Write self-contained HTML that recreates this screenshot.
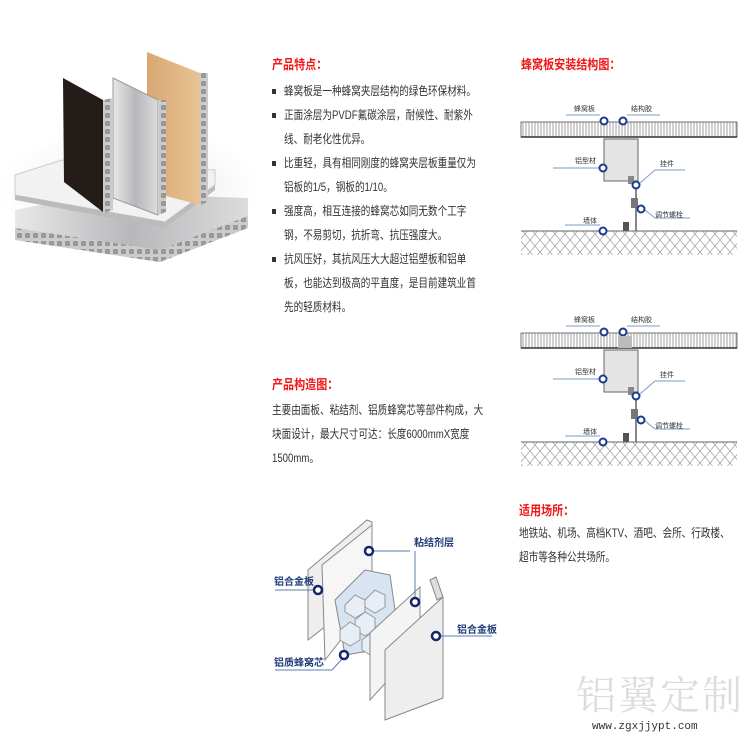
<!DOCTYPE html>
<html><head><meta charset="utf-8"><style>
body{margin:0;width:750px;height:750px;background:#fff;position:relative;overflow:hidden;font-family:"Liberation Sans","Noto Sans CJK SC",sans-serif}
.t{position:absolute;font-size:12px;color:#333;line-height:24px;white-space:nowrap;transform:scaleX(0.8);transform-origin:0 0}
.h{position:absolute;font-size:13px;font-weight:bold;color:#f01818;white-space:nowrap;transform:scaleX(0.85);transform-origin:0 0}
ul{margin:0;padding:0;list-style:none}
li{position:relative;padding-left:15px}
li:before{content:"";position:absolute;left:0;top:10px;width:5px;height:5px;background:#333}
</style></head><body>
<svg width="750" height="750" style="position:absolute;left:0;top:0">
<defs>
<pattern id="vl" width="3" height="10" patternUnits="userSpaceOnUse"><rect width="3" height="10" fill="#fff"/><line x1="1" y1="0" x2="1" y2="10" stroke="#777" stroke-width="0.7"/></pattern>
<pattern id="xh" width="10" height="12" patternUnits="userSpaceOnUse"><path d="M0 0L10 12M10 0L0 12" stroke="#999" stroke-width="0.7"/></pattern>
<pattern id="hc" width="8" height="8" patternUnits="userSpaceOnUse"><rect width="8" height="8" fill="#ccc"/><rect x="1" y="1" width="5" height="5" fill="#999"/></pattern>
<linearGradient id="sv" x1="0" x2="1"><stop offset="0" stop-color="#e8e8e8"/><stop offset=".5" stop-color="#b8b8bc"/><stop offset="1" stop-color="#dcdcdc"/></linearGradient>
<linearGradient id="wd" x1="0" x2="1"><stop offset="0" stop-color="#d9a874"/><stop offset="1" stop-color="#e8c394"/></linearGradient>
<radialGradient id="bg"><stop offset="0" stop-color="#e6e6e6"/><stop offset="1" stop-color="#fff"/></radialGradient>
<g id="inst">
<rect x="521" y="122" width="216" height="15" fill="url(#vl)" stroke="#555" stroke-width="0.8"/>
<line x1="521" y1="137" x2="737" y2="137" stroke="#333" stroke-width="1.5"/>
<rect x="604" y="139" width="34" height="42" fill="#e4e4e4" stroke="#666"/>
<line x1="636" y1="181" x2="636" y2="231" stroke="#888" stroke-width="2"/>
<rect x="628" y="176" width="6" height="8" fill="#888"/>
<rect x="631" y="198" width="7" height="10" fill="#777"/>
<rect x="623" y="222" width="6" height="9" fill="#555"/>
<rect x="521" y="231" width="216" height="24" fill="url(#xh)"/>
<line x1="521" y1="231" x2="737" y2="231" stroke="#666"/>
<g fill="none" stroke="#7a9cc8" stroke-width="1"><line x1="566" y1="115" x2="600" y2="115"/><line x1="627" y1="115" x2="660" y2="115"/><line x1="553" y1="168" x2="600" y2="168"/><line x1="640" y1="183" x2="655" y2="170"/><line x1="655" y1="170" x2="685" y2="170"/><line x1="645" y1="210" x2="655" y2="218"/><line x1="655" y1="218" x2="690" y2="218"/><line x1="565" y1="225" x2="600" y2="225"/></g>
<g fill="#fff" stroke="#1a3a8c" stroke-width="2"><circle cx="604" cy="121" r="3.5"/><circle cx="623" cy="121" r="3.5"/><circle cx="603" cy="168" r="3.5"/><circle cx="636" cy="185" r="3.5"/><circle cx="641" cy="209" r="3.5"/><circle cx="603" cy="231" r="3.5"/></g>
<g font-size="7" fill="#333"><text x="574" y="111">蜂窝板</text><text x="631" y="111">结构胶</text><text x="575" y="163">铝型材</text><text x="660" y="166">挂件</text><text x="655" y="217">调节螺栓</text><text x="583" y="223">墙体</text></g>
</g>
</defs>
<ellipse cx="130" cy="190" rx="130" ry="65" fill="url(#bg)"/>
<polygon points="15,210 100,193 248,198 248,228 160,262 15,240" fill="url(#sv)"/>
<polygon points="15,228 160,250 248,216 248,228 160,262 15,240" fill="url(#hc)"/>
<polygon points="15,175 62,160 215,170 215,185 165,222 15,195" fill="#f2f2f2" stroke="#ccc"/>
<polygon points="15,195 165,222 215,185 215,190 165,228 15,200" fill="#bbb"/>
<polygon points="147,52 200,73 200,205 170,197 147,190" fill="url(#wd)"/>
<polygon points="200,73 208,73 208,202 200,205" fill="url(#hc)"/>
<polygon points="113,78 158,100 158,215 113,198" fill="url(#sv)" stroke="#999"/>
<polygon points="158,100 166,100 166,212 158,215" fill="url(#hc)"/>
<polygon points="63,78 103,100 103,212 64,182" fill="#231c18"/>
<polygon points="103,100 113,98 113,210 103,213" fill="url(#hc)"/>

<use href="#inst"/>
<use href="#inst" transform="translate(0,211)"/>
<rect x="618" y="336" width="14" height="12" fill="#bbb"/>

<!-- exploded -->
<g stroke="#888" stroke-width="1">
<polygon points="308,570 367,520 372,522 372,590 308,640" fill="#eee"/>
<polygon points="322,565 372,525 372,600 325,660" fill="#f6f6f6"/>
<polygon points="335,600 365,570 390,575 395,610 375,650 345,655" fill="#d8e4f2"/>
<g fill="#e8eef6" stroke="#999"><polygon points="345,605 355,595 365,600 365,612 355,618 345,612"/><polygon points="365,600 375,590 385,595 385,607 375,613 365,607"/><polygon points="355,620 365,612 375,618 375,630 365,636 355,630"/><polygon points="340,630 350,622 360,628 360,640 350,646 340,640"/><polygon points="362,640 372,632 382,638 382,650 372,656 362,650"/></g>
<polygon points="370,633 420,587 420,645 370,700" fill="#f4f4f4"/>
<polygon points="385,650 443,597 443,698 385,720" fill="#eee"/>
<polygon points="430,580 436,577 443,597 437,600" fill="#ddd"/>
</g>
<g fill="none" stroke="#5a7fb5" stroke-width="1"><line x1="372" y1="551" x2="410" y2="551"/><line x1="415" y1="551" x2="415" y2="598"/><line x1="275" y1="590" x2="314" y2="590"/><line x1="275" y1="670" x2="332" y2="670"/><line x1="332" y1="670" x2="343" y2="658"/><line x1="440" y1="636" x2="492" y2="636"/></g>
<g fill="#fff" stroke="#14256e" stroke-width="2.5"><circle cx="369" cy="551" r="4"/><circle cx="415" cy="602" r="4"/><circle cx="318" cy="590" r="4"/><circle cx="344" cy="655" r="4"/><circle cx="436" cy="636" r="4"/></g>
<g font-size="10" font-weight="bold" fill="#233e7a"><text x="414" y="546">粘结剂层</text><text x="274" y="585">铝合金板</text><text x="274" y="666">铝质蜂窝芯</text><text x="457" y="633">铝合金板</text></g>
</svg>

<div class="h" style="left:272px;top:54px">产品特点：</div>
<div class="t" style="left:272px;top:79px"><ul>
<li>蜂窝板是一种蜂窝夹层结构的绿色环保材料。</li>
<li>正面涂层为PVDF氟碳涂层，耐候性、耐紫外<br>线、耐老化性优异。</li>
<li>比重轻，具有相同刚度的蜂窝夹层板重量仅为<br>铝板的1/5，钢板的1/10。</li>
<li>强度高，相互连接的蜂窝芯如同无数个工字<br>钢，不易剪切，抗折弯、抗压强度大。</li>
<li>抗风压好，其抗风压大大超过铝塑板和铝单<br>板，也能达到极高的平直度，是目前建筑业首<br>先的轻质材料。</li></ul></div>

<div class="h" style="left:521px;top:54px">蜂窝板安装结构图：</div>

<div class="h" style="left:272px;top:374px">产品构造图：</div>
<div class="t" style="left:272px;top:398px">主要由面板、粘结剂、铝质蜂窝芯等部件构成，大<br>块面设计，最大尺寸可达：长度6000mmX宽度<br>1500mm。</div>

<div class="h" style="left:519px;top:500px">适用场所：</div>
<div class="t" style="left:519px;top:521px">地铁站、机场、高档KTV、酒吧、会所、行政楼、<br>超市等各种公共场所。</div>

<div style="position:absolute;left:576px;top:664px;font-size:40px;color:#ddd;letter-spacing:2px;font-family:'Liberation Serif','Noto Serif CJK SC',serif">铝翼定制</div>
<div style="position:absolute;left:592px;top:721px;font-size:11px;color:#333;font-family:'Liberation Mono',monospace">www.zgxjjypt.com</div>
</body></html>
